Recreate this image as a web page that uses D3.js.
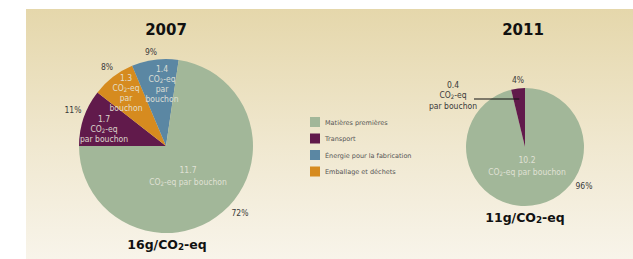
<!DOCTYPE html>
<html>
<head>
<meta charset="utf-8">
<script src="https://cdn.jsdelivr.net/npm/d3@7"></script>
<style>
  body { margin: 0; background: #fff; }
  svg { display: block; }
  .lbl { font-family: "Liberation Sans Narrow", "DejaVu Sans Condensed", sans-serif; }
  .ttl { font-family: "DejaVu Sans", sans-serif; font-weight: bold; }
</style>
</head>
<body>
<svg id="chart"></svg>
<script>
const categories = ['Matières premières', 'Transport', 'Énergie pour la fabrication', 'Emballage et déchets'];
const colors = ['#a2b799', '#611a4b', '#5b87a3', '#d68b1f'];

// values in g CO2-eq per cork, pie order
const slices2007 = ['Transport', 'Emballage et déchets', 'Énergie pour la fabrication', 'Matières premières'];
const values2007 = [1.7, 1.3, 1.4, 11.7];
const pct2007 = ['11%', '8%', '9%', '72%'];
const inner2007 = [
  ['1.7', 'CO₂-eq', 'par bouchon'],
  ['1.3', 'CO₂-eq', 'par', 'bouchon'],
  ['1.4', 'CO₂-eq', 'par', 'bouchon'],
  ['11.7', 'CO₂-eq par bouchon']
];

const slices2011 = ['Matières premières', 'Transport'];
const values2011 = [10.2, 0.4];
const pct2011 = ['96%', '4%'];

const width = 633, height = 259;
const svg = d3.select('#chart').attr('width', width).attr('height', height);

const defs = svg.append('defs');
const grad = defs.append('linearGradient').attr('id', 'bg')
  .attr('x1', 0).attr('y1', 0).attr('x2', 0).attr('y2', 1);
grad.append('stop').attr('offset', '0%').attr('stop-color', '#e5d7ab');
grad.append('stop').attr('offset', '55%').attr('stop-color', '#f0e8d0');
grad.append('stop').attr('offset', '100%').attr('stop-color', '#f8f4ea');

svg.append('rect').attr('x', 26).attr('y', 9).attr('width', width - 26).attr('height', height - 9)
  .attr('fill', 'url(#bg)');

const color = d3.scaleOrdinal().domain(categories).range(colors);

function subCO2(sel, text) {
  // renders "CO₂" with a small lowered 2
  const parts = text.split('₂');
  sel.text(null);
  sel.append('tspan').text(parts[0]);
  if (parts.length > 1) {
    sel.append('tspan').attr('baseline-shift', '-15%').style('font-size', '0.7em').text('2');
    sel.append('tspan').text(parts[1]);
  }
}

// ---- 2007 ----
const c1 = { x: 166, y: 146, r: 87 };
const g1 = svg.append('g').attr('transform', `translate(${c1.x},${c1.y})`);
const pie1 = d3.pie().sort(null).startAngle(-Math.PI / 2).endAngle(1.5 * Math.PI);
const arc1 = d3.arc().innerRadius(0).outerRadius(c1.r);
const arcs1 = pie1(values2007);

g1.selectAll('path').data(arcs1).enter().append('path')
  .attr('d', arc1)
  .attr('fill', (d, i) => color(slices2007[i]));

// inner label positions (center of the text block)
const innerPos1 = [[-62, -17], [-40, -53], [-4, -62], [22, 30]];
arcs1.forEach((d, i) => {
  const lines = inner2007[i];
  const lh = i === 3 ? 11.5 : 10.3;
  const [x, y] = innerPos1[i];
  lines.forEach((t, k) => {
    const tx = g1.append('text').attr('class', 'lbl')
      .attr('x', x).attr('y', y + (k - (lines.length - 1) / 2) * lh + 3)
      .attr('text-anchor', 'middle')
      .style('font-size', '8.5px').style('fill', '#e6e6dc')
      .attr('opacity', 0.9);
    subCO2(tx, t);
  });
});

const pctPos1 = [[-93, -33], [-59, -76], [-15, -91], [74, 70]];
pct2007.forEach((p, i) => {
  g1.append('text').attr('class', 'lbl')
    .attr('x', pctPos1[i][0]).attr('y', pctPos1[i][1])
    .attr('text-anchor', 'middle')
    .style('font-size', '8.5px').style('fill', '#3a3a3a')
    .text(p);
});

svg.append('text').attr('class', 'ttl')
  .attr('x', c1.x).attr('y', 35).attr('text-anchor', 'middle')
  .style('font-size', '15px').style('fill', '#111').text('2007');

const tot1 = svg.append('text').attr('class', 'ttl')
  .attr('x', c1.x + 1).attr('y', 249).attr('text-anchor', 'middle')
  .style('font-size', '12.5px').style('fill', '#111');
subCO2(tot1, '16g/CO₂-eq');

// ---- 2011 ----
const c2 = { x: 525, y: 147, r: 59 };
const g2 = svg.append('g').attr('transform', `translate(${c2.x},${c2.y})`);
const pie2 = d3.pie().sort(null).startAngle(0).endAngle(2 * Math.PI);
const arc2 = d3.arc().innerRadius(0).outerRadius(c2.r);
const arcs2 = pie2(values2011);

g2.selectAll('path').data(arcs2).enter().append('path')
  .attr('d', arc2)
  .attr('fill', (d, i) => color(slices2011[i]));

['10.2', 'CO₂-eq par bouchon'].forEach((t, k) => {
  const tx = g2.append('text').attr('class', 'lbl')
    .attr('x', 2).attr('y', 16 + k * 11.5)
    .attr('text-anchor', 'middle')
    .style('font-size', '8.5px').style('fill', '#e6e6dc').attr('opacity', 0.9);
  subCO2(tx, t);
});

const pctPos2 = [[59, 42], [-7, -64]];
pct2011.forEach((p, i) => {
  g2.append('text').attr('class', 'lbl')
    .attr('x', pctPos2[i][0]).attr('y', pctPos2[i][1])
    .attr('text-anchor', 'middle')
    .style('font-size', '8.5px').style('fill', '#3a3a3a')
    .text(p);
});

// callout for the transport slice
const tArc = arcs2[1];
const mid = (tArc.startAngle + tArc.endAngle) / 2;
const tipX = Math.sin(mid) * (c2.r - 11);
g2.append('line')
  .attr('x1', -51).attr('x2', tipX).attr('y1', -48).attr('y2', -48)
  .attr('stroke', '#111').attr('stroke-width', 1);
['0.4', 'CO₂-eq', 'par bouchon'].forEach((t, k) => {
  const tx = g2.append('text').attr('class', 'lbl')
    .attr('x', -72).attr('y', -59 + k * 10.3)
    .attr('text-anchor', 'middle')
    .style('font-size', '8.5px').style('fill', '#3a3a3a');
  subCO2(tx, t);
});

svg.append('text').attr('class', 'ttl')
  .attr('x', c2.x - 2).attr('y', 35).attr('text-anchor', 'middle')
  .style('font-size', '15px').style('fill', '#111').text('2011');

const tot2 = svg.append('text').attr('class', 'ttl')
  .attr('x', c2.x).attr('y', 222).attr('text-anchor', 'middle')
  .style('font-size', '12.5px').style('fill', '#111');
subCO2(tot2, '11g/CO₂-eq');

// ---- legend ----
const legendSize = 10, legendStep = 16.5;
const legend = svg.selectAll('.legend').data(categories).enter().append('g')
  .attr('class', 'legend')
  .attr('transform', (d, i) => `translate(310,${117 + i * legendStep})`);
legend.append('rect')
  .attr('width', legendSize).attr('height', legendSize)
  .style('fill', d => color(d));
legend.append('text').attr('class', 'lbl')
  .attr('x', 15).attr('y', 7.5)
  .style('font-family', '"DejaVu Sans", sans-serif')
  .style('font-size', '6.5px').style('fill', '#555')
  .text(d => d);
</script>
</body>
</html>
